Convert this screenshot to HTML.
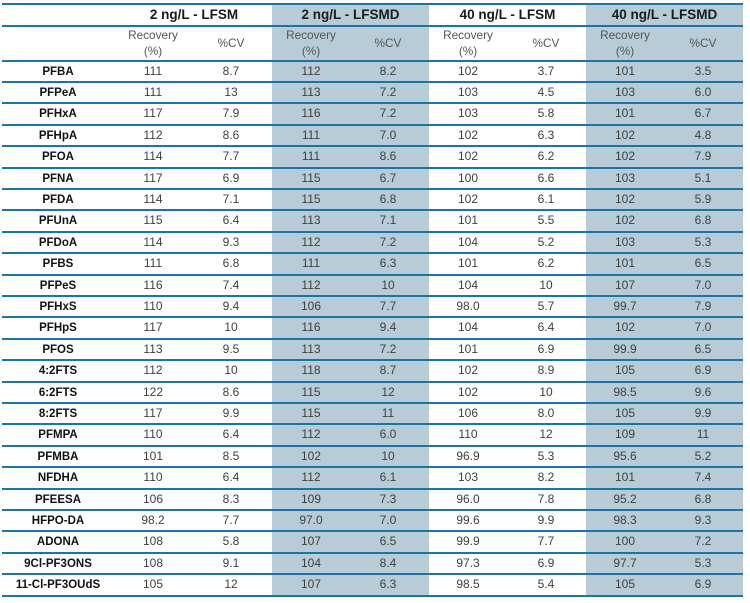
<!DOCTYPE html>
<html>
<head>
<meta charset="utf-8">
<style>
  html,body{margin:0;padding:0;background:#fff;}
  body{width:750px;height:603px;position:relative;overflow:hidden;font-family:"Liberation Sans",Arial,sans-serif;}
  .sh{position:absolute;background:#b8ccd7;top:5px;height:590px;}
  .ln{position:absolute;left:2px;width:741px;height:2px;background:#1f73a3;}
  .hd{position:absolute;top:4px;height:21px;line-height:21px;text-align:center;font-size:13.5px;font-weight:bold;color:#1a1a1a;}
  .sub{position:absolute;text-align:center;font-size:11.8px;color:#555;width:80px;}
  .r{position:absolute;left:0;width:750px;height:19.4px;line-height:19.4px;font-size:12px;color:#3f3f3f;}
  .r span{position:absolute;top:0;width:80px;text-align:center;}
  .r span:nth-child(1){left:0;top:1px;width:116px;font-weight:bold;font-size:11.5px;color:#111;}
  .r span:nth-child(2){left:113px;}
  .r span:nth-child(3){left:191px;}
  .r span:nth-child(4){left:271px;}
  .r span:nth-child(5){left:348px;}
  .r span:nth-child(6){left:428px;}
  .r span:nth-child(7){left:506px;}
  .r span:nth-child(8){left:585px;}
  .r span:nth-child(9){left:663px;}
</style>
</head>
<body>
<div class="sh" style="left:271.5px;width:157.5px;"></div>
<div class="sh" style="left:586px;width:156.5px;"></div>

<div class="ln" style="top:3px;"></div>
<div class="ln" style="top:24.5px;"></div>

<div class="hd" style="left:116px;width:156px;">2 ng/L - LFSM</div>
<div class="hd" style="left:272px;width:157px;">2 ng/L - LFSMD</div>
<div class="hd" style="left:429px;width:157px;">40 ng/L - LFSM</div>
<div class="hd" style="left:586px;width:157px;">40 ng/L - LFSMD</div>

<div class="sub" style="left:113px;top:27px;line-height:16px;">Recovery<br>(%)</div>
<div class="sub" style="left:191px;top:35px;line-height:16px;">%CV</div>
<div class="sub" style="left:271px;top:27px;line-height:16px;">Recovery<br>(%)</div>
<div class="sub" style="left:348px;top:35px;line-height:16px;">%CV</div>
<div class="sub" style="left:428px;top:27px;line-height:16px;">Recovery<br>(%)</div>
<div class="sub" style="left:506px;top:35px;line-height:16px;">%CV</div>
<div class="sub" style="left:585px;top:27px;line-height:16px;">Recovery<br>(%)</div>
<div class="sub" style="left:663px;top:35px;line-height:16px;">%CV</div>

<div class="ln" style="top:59.5px;"></div>
<div class="ln" style="top:80.9px;"></div>
<div class="ln" style="top:102.3px;"></div>
<div class="ln" style="top:123.7px;"></div>
<div class="ln" style="top:145.1px;"></div>
<div class="ln" style="top:166.5px;"></div>
<div class="ln" style="top:187.9px;"></div>
<div class="ln" style="top:209.3px;"></div>
<div class="ln" style="top:230.7px;"></div>
<div class="ln" style="top:252.1px;"></div>
<div class="ln" style="top:273.5px;"></div>
<div class="ln" style="top:294.9px;"></div>
<div class="ln" style="top:316.3px;"></div>
<div class="ln" style="top:337.7px;"></div>
<div class="ln" style="top:359.1px;"></div>
<div class="ln" style="top:380.5px;"></div>
<div class="ln" style="top:401.9px;"></div>
<div class="ln" style="top:423.3px;"></div>
<div class="ln" style="top:444.7px;"></div>
<div class="ln" style="top:466.1px;"></div>
<div class="ln" style="top:487.5px;"></div>
<div class="ln" style="top:508.9px;"></div>
<div class="ln" style="top:530.3px;"></div>
<div class="ln" style="top:551.7px;"></div>
<div class="ln" style="top:573.1px;"></div>
<div class="ln" style="top:594.5px;"></div>

<div class="r" style="top:61.5px;"><span>PFBA</span><span>111</span><span>8.7</span><span>112</span><span>8.2</span><span>102</span><span>3.7</span><span>101</span><span>3.5</span></div>
<div class="r" style="top:82.9px;"><span>PFPeA</span><span>111</span><span>13</span><span>113</span><span>7.2</span><span>103</span><span>4.5</span><span>103</span><span>6.0</span></div>
<div class="r" style="top:104.3px;"><span>PFHxA</span><span>117</span><span>7.9</span><span>116</span><span>7.2</span><span>103</span><span>5.8</span><span>101</span><span>6.7</span></div>
<div class="r" style="top:125.7px;"><span>PFHpA</span><span>112</span><span>8.6</span><span>111</span><span>7.0</span><span>102</span><span>6.3</span><span>102</span><span>4.8</span></div>
<div class="r" style="top:147.1px;"><span>PFOA</span><span>114</span><span>7.7</span><span>111</span><span>8.6</span><span>102</span><span>6.2</span><span>102</span><span>7.9</span></div>
<div class="r" style="top:168.5px;"><span>PFNA</span><span>117</span><span>6.9</span><span>115</span><span>6.7</span><span>100</span><span>6.6</span><span>103</span><span>5.1</span></div>
<div class="r" style="top:189.9px;"><span>PFDA</span><span>114</span><span>7.1</span><span>115</span><span>6.8</span><span>102</span><span>6.1</span><span>102</span><span>5.9</span></div>
<div class="r" style="top:211.3px;"><span>PFUnA</span><span>115</span><span>6.4</span><span>113</span><span>7.1</span><span>101</span><span>5.5</span><span>102</span><span>6.8</span></div>
<div class="r" style="top:232.7px;"><span>PFDoA</span><span>114</span><span>9.3</span><span>112</span><span>7.2</span><span>104</span><span>5.2</span><span>103</span><span>5.3</span></div>
<div class="r" style="top:254.1px;"><span>PFBS</span><span>111</span><span>6.8</span><span>111</span><span>6.3</span><span>101</span><span>6.2</span><span>101</span><span>6.5</span></div>
<div class="r" style="top:275.5px;"><span>PFPeS</span><span>116</span><span>7.4</span><span>112</span><span>10</span><span>104</span><span>10</span><span>107</span><span>7.0</span></div>
<div class="r" style="top:296.9px;"><span>PFHxS</span><span>110</span><span>9.4</span><span>106</span><span>7.7</span><span>98.0</span><span>5.7</span><span>99.7</span><span>7.9</span></div>
<div class="r" style="top:318.3px;"><span>PFHpS</span><span>117</span><span>10</span><span>116</span><span>9.4</span><span>104</span><span>6.4</span><span>102</span><span>7.0</span></div>
<div class="r" style="top:339.7px;"><span>PFOS</span><span>113</span><span>9.5</span><span>113</span><span>7.2</span><span>101</span><span>6.9</span><span>99.9</span><span>6.5</span></div>
<div class="r" style="top:361.1px;"><span>4:2FTS</span><span>112</span><span>10</span><span>118</span><span>8.7</span><span>102</span><span>8.9</span><span>105</span><span>6.9</span></div>
<div class="r" style="top:382.5px;"><span>6:2FTS</span><span>122</span><span>8.6</span><span>115</span><span>12</span><span>102</span><span>10</span><span>98.5</span><span>9.6</span></div>
<div class="r" style="top:403.9px;"><span>8:2FTS</span><span>117</span><span>9.9</span><span>115</span><span>11</span><span>106</span><span>8.0</span><span>105</span><span>9.9</span></div>
<div class="r" style="top:425.3px;"><span>PFMPA</span><span>110</span><span>6.4</span><span>112</span><span>6.0</span><span>110</span><span>12</span><span>109</span><span>11</span></div>
<div class="r" style="top:446.7px;"><span>PFMBA</span><span>101</span><span>8.5</span><span>102</span><span>10</span><span>96.9</span><span>5.3</span><span>95.6</span><span>5.2</span></div>
<div class="r" style="top:468.1px;"><span>NFDHA</span><span>110</span><span>6.4</span><span>112</span><span>6.1</span><span>103</span><span>8.2</span><span>101</span><span>7.4</span></div>
<div class="r" style="top:489.5px;"><span>PFEESA</span><span>106</span><span>8.3</span><span>109</span><span>7.3</span><span>96.0</span><span>7.8</span><span>95.2</span><span>6.8</span></div>
<div class="r" style="top:510.9px;"><span>HFPO-DA</span><span>98.2</span><span>7.7</span><span>97.0</span><span>7.0</span><span>99.6</span><span>9.9</span><span>98.3</span><span>9.3</span></div>
<div class="r" style="top:532.3px;"><span>ADONA</span><span>108</span><span>5.8</span><span>107</span><span>6.5</span><span>99.9</span><span>7.7</span><span>100</span><span>7.2</span></div>
<div class="r" style="top:553.7px;"><span>9Cl-PF3ONS</span><span>108</span><span>9.1</span><span>104</span><span>8.4</span><span>97.3</span><span>6.9</span><span>97.7</span><span>5.3</span></div>
<div class="r" style="top:575.1px;"><span>11-Cl-PF3OUdS</span><span>105</span><span>12</span><span>107</span><span>6.3</span><span>98.5</span><span>5.4</span><span>105</span><span>6.9</span></div>
</body>
</html>
